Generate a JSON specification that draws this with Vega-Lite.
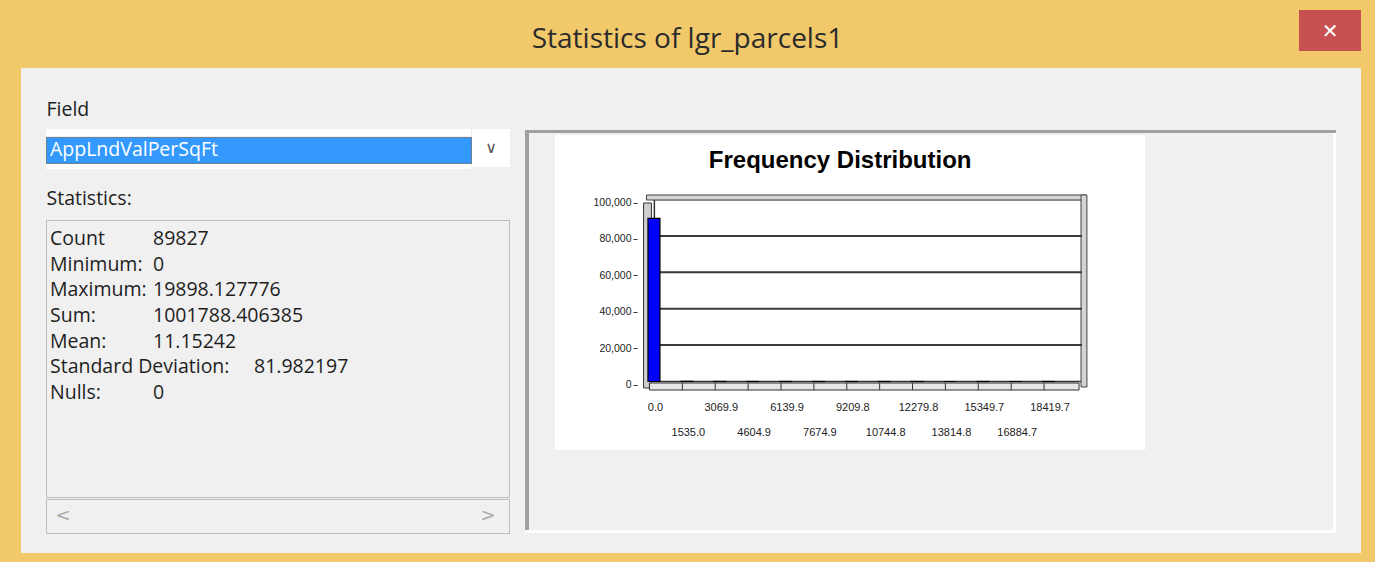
{
  "$schema": "https://vega.github.io/schema/vega-lite/v6.json",
  "padding": 0,
  "background": "#F0F0F0",
  "spacing": 0,
  "config": {"view": {"stroke": null}, "concat": {"spacing": 0}, "text": {"font": "Open Sans"}},
  "vconcat": [
    {"spacing": 0, "hconcat": [
      {"width": 1299, "height": 68, "view": {"fill": "#F1C96B", "stroke": null},
       "data": {"values": [{"t": "Statistics of lgr_parcels1"}]},
       "mark": {"type": "text", "font": "Open Sans", "fontSize": 28, "color": "#2B2B2B", "dx": 38, "dy": 6, "baseline": "middle"},
       "encoding": {"text": {"field": "t"}}},
      {"spacing": 0, "vconcat": [
        {"width": 62, "height": 10, "view": {"fill": "#F1C96B", "stroke": null}, "data": {"values": []}, "mark": "point"},
        {"width": 62, "height": 41, "view": {"fill": "#C75050", "stroke": null},
         "data": {"values": [{"t": "✕"}]},
         "mark": {"type": "text", "font": "DejaVu Sans", "fontSize": 20, "color": "white", "baseline": "middle", "dy": 1},
         "encoding": {"text": {"field": "t"}}},
        {"width": 62, "height": 17, "view": {"fill": "#F1C96B", "stroke": null}, "data": {"values": []}, "mark": "point"}
      ]},
      {"width": 14, "height": 68, "view": {"fill": "#F1C96B", "stroke": null}, "data": {"values": []}, "mark": "point"}
    ]},
    {"spacing": 0, "hconcat": [
      {"width": 21, "height": 485, "view": {"fill": "#F1C96B", "stroke": null}, "data": {"values": []}, "mark": "point"},
      {"spacing": 0, "hconcat": [
        {"width": 24, "height": 485, "data": {"values": []}, "mark": "point"},
        {"spacing": 0, "vconcat": [
          {"width": 463, "height": 30, "data": {"values": []}, "mark": "point"},
          {"width": 1, "height": 24, "data": {"values": [{"t": "Field"}]},
           "mark": {"type": "text", "align": "left", "baseline": "middle", "fontSize": 19.5, "color": "#1E1E1E"},
           "encoding": {"text": {"field": "t"}}},
          {"width": 463, "height": 7, "data": {"values": []}, "mark": "point"},
          {"spacing": 0, "hconcat": [
            {"spacing": 0, "vconcat": [
              {"width": 425, "height": 7, "view": {"fill": "white", "stroke": null}, "data": {"values": []}, "mark": "point"},
              {"width": 425, "height": 26, "view": {"fill": "#3399FF", "stroke": "#4A3B2A", "strokeDash": [1, 1]},
               "data": {"values": [{"name": "AppLndValPerSqFt"}]},
               "mark": {"type": "text", "align": "left", "baseline": "middle", "fontSize": 19.5, "color": "white"},
               "encoding": {
                 "text": {"field": "name"},
                 "x": {"field": "name", "type": "nominal", "scale": {"type": "point", "range": [4, 4], "padding": 0}, "axis": null}
               }},
              {"width": 425, "height": 5, "view": {"fill": "white", "stroke": null}, "data": {"values": []}, "mark": "point"}
            ]},
            {"width": 38, "height": 38, "view": {"fill": "white", "stroke": null},
             "data": {"values": [{"c": "∨"}]},
             "mark": {"type": "text", "font": "DejaVu Sans", "fontSize": 16, "color": "#555555", "baseline": "middle"},
             "encoding": {"text": {"field": "c"}}}
          ]},
          {"width": 463, "height": 18, "data": {"values": []}, "mark": "point"},
          {"width": 1, "height": 24, "data": {"values": [{"t": "Statistics:"}]},
           "mark": {"type": "text", "align": "left", "baseline": "middle", "fontSize": 19.5, "color": "#1E1E1E"},
           "encoding": {"text": {"field": "t"}}},
          {"width": 463, "height": 8, "data": {"values": []}, "mark": "point"},
          {"width": 463, "height": 277, "view": {"stroke": "#BDBDBD"},
           "data": {"values": [
             {"stat": "Count", "value": "89827"},
             {"stat": "Minimum:", "value": "0"},
             {"stat": "Maximum:", "value": "19898.127776"},
             {"stat": "Sum:", "value": "1001788.406385"},
             {"stat": "Mean:", "value": "11.15242"},
             {"stat": "Standard Deviation:", "value": "81.982197"},
             {"stat": "Nulls:", "value": "0"}
           ]},
           "layer": [
             {"mark": {"type": "text", "align": "left", "baseline": "middle", "fontSize": 19.5, "color": "#1E1E1E"},
              "encoding": {
                "y": {"field": "stat", "type": "nominal", "scale": {"type": "point", "domain": ["Count", "Minimum:", "Maximum:", "Sum:", "Mean:", "Standard Deviation:", "Nulls:"], "range": [19, 173], "padding": 0}, "axis": null},
                "x": {"datum": "stat", "type": "nominal", "scale": {"type": "point", "domain": ["stat", "value"], "range": [4, 107], "padding": 0}, "axis": null},
                "text": {"field": "stat"}
              }},
             {"transform": [{"filter": "datum.stat != 'Standard Deviation:'"}],
              "mark": {"type": "text", "align": "left", "baseline": "middle", "fontSize": 19.5, "color": "#1E1E1E"},
              "encoding": {
                "y": {"field": "stat", "type": "nominal", "scale": {"type": "point", "domain": ["Count", "Minimum:", "Maximum:", "Sum:", "Mean:", "Standard Deviation:", "Nulls:"], "range": [19, 173], "padding": 0}, "axis": null},
                "x": {"datum": "value", "type": "nominal", "scale": {"type": "point", "domain": ["stat", "value"], "range": [4, 107], "padding": 0}, "axis": null},
                "text": {"field": "value"}
              }},
             {"transform": [{"filter": "datum.stat == 'Standard Deviation:'"}],
              "mark": {"type": "text", "align": "left", "baseline": "middle", "fontSize": 19.5, "color": "#1E1E1E", "dx": 101},
              "encoding": {
                "y": {"field": "stat", "type": "nominal", "scale": {"type": "point", "domain": ["Count", "Minimum:", "Maximum:", "Sum:", "Mean:", "Standard Deviation:", "Nulls:"], "range": [19, 173], "padding": 0}, "axis": null},
                "x": {"datum": "value", "type": "nominal", "scale": {"type": "point", "domain": ["stat", "value"], "range": [4, 107], "padding": 0}, "axis": null},
                "text": {"field": "value"}
              }}
           ]},
          {"width": 463, "height": 34, "view": {"stroke": "#BDBDBD"},
           "data": {"values": [{"a": "<"}, {"a": ">"}]},
           "mark": {"type": "text", "font": "DejaVu Sans", "fontSize": 18, "color": "#A8A8A8", "baseline": "middle"},
           "encoding": {
             "x": {"field": "a", "type": "nominal", "scale": {"type": "point", "domain": ["<", ">"], "range": [17, 442], "padding": 0}, "axis": null},
             "text": {"field": "a"}
           }},
          {"width": 463, "height": 13, "data": {"values": []}, "mark": "point"}
        ]},
        {"width": 15, "height": 480, "data": {"values": []}, "mark": "point"}
      ]},
      {"spacing": 0, "hconcat": [
        {"spacing": 0, "vconcat": [
          {"width": 811, "height": 62, "data": {"values": []}, "mark": "point"},
          {"width": 811, "height": 3, "view": {"fill": "#A0A0A0", "stroke": null}, "data": {"values": []}, "mark": "point"},
          {"spacing": 0, "hconcat": [
            {"width": 4, "height": 397, "view": {"fill": "#A0A0A0", "stroke": null}, "data": {"values": []}, "mark": "point"},
            {"width": 26, "height": 397, "data": {"values": []}, "mark": "point"},
            {"spacing": 0, "vconcat": [
              {"width": 590, "height": 2, "data": {"values": []}, "mark": "point"},
              {"width": 590, "height": 315, "view": {"fill": "white", "stroke": null},
               "data": {"values": [
                 {"bin": 0, "start": 0.0, "count": 89650},
                 {"bin": 1, "start": 1535.0, "count": 120},
                 {"bin": 2, "start": 3069.9, "count": 30},
                 {"bin": 3, "start": 4604.9, "count": 12},
                 {"bin": 4, "start": 6139.9, "count": 6},
                 {"bin": 5, "start": 7674.9, "count": 3},
                 {"bin": 6, "start": 9209.8, "count": 2},
                 {"bin": 7, "start": 10744.8, "count": 1},
                 {"bin": 8, "start": 12279.8, "count": 1},
                 {"bin": 9, "start": 13814.8, "count": 0},
                 {"bin": 10, "start": 15349.7, "count": 1},
                 {"bin": 11, "start": 16884.7, "count": 0},
                 {"bin": 12, "start": 18419.7, "count": 1}
               ]},
               "layer": [
                 {"data": {"values": [{}]},
                  "mark": {"type": "rect", "fill": "#CFCFCF", "stroke": "#333333", "strokeWidth": 1},
                  "encoding": {
                    "x": {"datum": -275, "type": "quantitative", "scale": {"domain": [-4176, 22898], "nice": false, "zero": false}, "axis": null},
                    "x2": {"datum": 92},
                    "y": {"datum": 98077, "type": "quantitative", "scale": {"domain": [-37637, 135440], "nice": false, "zero": false},
                          "axis": {"orient": "left", "offset": -82, "values": [0, 20000, 40000, 60000, 80000, 100000], "format": ",.0f", "domain": false, "grid": false, "ticks": true, "tickSize": 4, "tickColor": "#333333", "tickOffset": 3, "labelFont": "Liberation Sans", "labelFontSize": 10.5, "labelColor": "#222222", "labelPadding": 2, "title": null}},
                    "y2": {"datum": -3571}
                  }},
                 {"data": {"values": [{}]},
                  "mark": {"type": "rect", "fill": "white", "stroke": "#333333", "strokeWidth": 1.5},
                  "encoding": {
                    "x": {"datum": 229, "type": "quantitative", "scale": {"domain": [-4176, 22898], "nice": false, "zero": false}, "axis": null},
                    "x2": {"datum": 20191},
                    "y": {"datum": 0, "type": "quantitative", "scale": {"domain": [-37637, 135440], "nice": false, "zero": false},
                          "axis": {"orient": "left", "offset": -82, "values": [0, 20000, 40000, 60000, 80000, 100000], "format": ",.0f", "domain": false, "grid": false, "ticks": true, "tickSize": 4, "tickColor": "#333333", "tickOffset": 3, "labelFont": "Liberation Sans", "labelFontSize": 10.5, "labelColor": "#222222", "labelPadding": 2, "title": null}},
                    "y2": {"datum": 100000}
                  }},
                 {"data": {"values": [{}]},
                  "mark": {"type": "rect", "fill": "#D4D4D4", "stroke": "#444444", "strokeWidth": 1},
                  "encoding": {
                    "x": {"datum": -138, "type": "quantitative", "scale": {"domain": [-4176, 22898], "nice": false, "zero": false}, "axis": null},
                    "x2": {"datum": 20374},
                    "y": {"datum": 99725, "type": "quantitative", "scale": {"domain": [-37637, 135440], "nice": false, "zero": false},
                          "axis": {"orient": "left", "offset": -82, "values": [0, 20000, 40000, 60000, 80000, 100000], "format": ",.0f", "domain": false, "grid": false, "ticks": true, "tickSize": 4, "tickColor": "#333333", "tickOffset": 3, "labelFont": "Liberation Sans", "labelFontSize": 10.5, "labelColor": "#222222", "labelPadding": 2, "title": null}},
                    "y2": {"datum": 102473}
                  }},
                 {"data": {"values": [{}]},
                  "mark": {"type": "rect", "fill": "#D4D4D4", "stroke": "#444444", "strokeWidth": 1},
                  "encoding": {
                    "x": {"datum": 20145, "type": "quantitative", "scale": {"domain": [-4176, 22898], "nice": false, "zero": false}, "axis": null},
                    "x2": {"datum": 20420},
                    "y": {"datum": -3022, "type": "quantitative", "scale": {"domain": [-37637, 135440], "nice": false, "zero": false},
                          "axis": {"orient": "left", "offset": -82, "values": [0, 20000, 40000, 60000, 80000, 100000], "format": ",.0f", "domain": false, "grid": false, "ticks": true, "tickSize": 4, "tickColor": "#333333", "tickOffset": 3, "labelFont": "Liberation Sans", "labelFontSize": 10.5, "labelColor": "#222222", "labelPadding": 2, "title": null}},
                    "y2": {"datum": 102473}
                  }},
                 {"data": {"values": [{}]},
                  "mark": {"type": "rect", "fill": "#E6E6E6", "stroke": "#333333", "strokeWidth": 1},
                  "encoding": {
                    "x": {"datum": 0, "type": "quantitative", "scale": {"domain": [-4176, 22898], "nice": false, "zero": false}, "axis": null},
                    "x2": {"datum": 20053},
                    "y": {"datum": -824, "type": "quantitative", "scale": {"domain": [-37637, 135440], "nice": false, "zero": false},
                          "axis": {"orient": "left", "offset": -82, "values": [0, 20000, 40000, 60000, 80000, 100000], "format": ",.0f", "domain": false, "grid": false, "ticks": true, "tickSize": 4, "tickColor": "#333333", "tickOffset": 3, "labelFont": "Liberation Sans", "labelFontSize": 10.5, "labelColor": "#222222", "labelPadding": 2, "title": null}},
                    "y2": {"datum": -4670}
                  }},
                 {"mark": {"type": "rule", "stroke": "#333333", "strokeWidth": 1},
                  "encoding": {
                    "x": {"field": "start", "type": "quantitative", "scale": {"domain": [-4176, 22898], "nice": false, "zero": false}, "axis": null},
                    "y": {"datum": -824, "type": "quantitative", "scale": {"domain": [-37637, 135440], "nice": false, "zero": false},
                          "axis": {"orient": "left", "offset": -82, "values": [0, 20000, 40000, 60000, 80000, 100000], "format": ",.0f", "domain": false, "grid": false, "ticks": true, "tickSize": 4, "tickColor": "#333333", "tickOffset": 3, "labelFont": "Liberation Sans", "labelFontSize": 10.5, "labelColor": "#222222", "labelPadding": 2, "title": null}},
                    "y2": {"datum": -4670}
                  }},
                 {"data": {"values": [{"g": 20000}, {"g": 40000}, {"g": 60000}, {"g": 80000}]},
                  "mark": {"type": "rule", "stroke": "#3A3A3A", "strokeWidth": 2},
                  "encoding": {
                    "x": {"datum": 229, "type": "quantitative", "scale": {"domain": [-4176, 22898], "nice": false, "zero": false}, "axis": null},
                    "x2": {"datum": 20191},
                    "y": {"field": "g", "type": "quantitative", "scale": {"domain": [-37637, 135440], "nice": false, "zero": false},
                          "axis": {"orient": "left", "offset": -82, "values": [0, 20000, 40000, 60000, 80000, 100000], "format": ",.0f", "domain": false, "grid": false, "ticks": true, "tickSize": 4, "tickColor": "#333333", "tickOffset": 3, "labelFont": "Liberation Sans", "labelFontSize": 10.5, "labelColor": "#222222", "labelPadding": 2, "title": null}}
                  }},
                 {"mark": {"type": "bar", "width": 12, "xOffset": 4.5, "fill": "#0000FF", "stroke": "#000000", "strokeWidth": 1.2},
                  "encoding": {
                    "x": {"field": "start", "type": "quantitative", "scale": {"domain": [-4176, 22898], "nice": false, "zero": false}, "axis": null},
                    "y": {"field": "count", "type": "quantitative", "stack": null, "scale": {"domain": [-37637, 135440], "nice": false, "zero": false},
                          "axis": {"orient": "left", "offset": -82, "values": [0, 20000, 40000, 60000, 80000, 100000], "format": ",.0f", "domain": false, "grid": false, "ticks": true, "tickSize": 4, "tickColor": "#333333", "tickOffset": 3, "labelFont": "Liberation Sans", "labelFontSize": 10.5, "labelColor": "#222222", "labelPadding": 2, "title": null}},
                    "y2": {"datum": 0}
                  }},
                 {"transform": [{"filter": "datum.bin % 2 == 0"}],
                  "mark": {"type": "text", "font": "Liberation Sans", "fontSize": 11, "color": "#222222", "dx": 6, "baseline": "middle"},
                  "encoding": {
                    "x": {"field": "start", "type": "quantitative", "scale": {"domain": [-4176, 22898], "nice": false, "zero": false}, "axis": null},
                    "y": {"datum": -14560, "type": "quantitative", "scale": {"domain": [-37637, 135440], "nice": false, "zero": false},
                          "axis": {"orient": "left", "offset": -82, "values": [0, 20000, 40000, 60000, 80000, 100000], "format": ",.0f", "domain": false, "grid": false, "ticks": true, "tickSize": 4, "tickColor": "#333333", "tickOffset": 3, "labelFont": "Liberation Sans", "labelFontSize": 10.5, "labelColor": "#222222", "labelPadding": 2, "title": null}},
                    "text": {"field": "start", "type": "quantitative", "format": ".1f"}
                  }},
                 {"transform": [{"filter": "datum.bin % 2 == 1"}],
                  "mark": {"type": "text", "font": "Liberation Sans", "fontSize": 11, "color": "#222222", "dx": 6, "baseline": "middle"},
                  "encoding": {
                    "x": {"field": "start", "type": "quantitative", "scale": {"domain": [-4176, 22898], "nice": false, "zero": false}, "axis": null},
                    "y": {"datum": -28297, "type": "quantitative", "scale": {"domain": [-37637, 135440], "nice": false, "zero": false},
                          "axis": {"orient": "left", "offset": -82, "values": [0, 20000, 40000, 60000, 80000, 100000], "format": ",.0f", "domain": false, "grid": false, "ticks": true, "tickSize": 4, "tickColor": "#333333", "tickOffset": 3, "labelFont": "Liberation Sans", "labelFontSize": 10.5, "labelColor": "#222222", "labelPadding": 2, "title": null}},
                    "text": {"field": "start", "type": "quantitative", "format": ".1f"}
                  }},
                 {"data": {"values": [{"title": "Frequency Distribution"}]},
                  "mark": {"type": "text", "font": "Liberation Sans", "fontSize": 24, "fontWeight": "bold", "color": "#000000", "baseline": "middle"},
                  "encoding": {
                    "x": {"datum": 8902, "type": "quantitative", "scale": {"domain": [-4176, 22898], "nice": false, "zero": false}, "axis": null},
                    "y": {"datum": 121154, "type": "quantitative", "scale": {"domain": [-37637, 135440], "nice": false, "zero": false},
                          "axis": {"orient": "left", "offset": -82, "values": [0, 20000, 40000, 60000, 80000, 100000], "format": ",.0f", "domain": false, "grid": false, "ticks": true, "tickSize": 4, "tickColor": "#333333", "tickOffset": 3, "labelFont": "Liberation Sans", "labelFontSize": 10.5, "labelColor": "#222222", "labelPadding": 2, "title": null}},
                    "text": {"field": "title"}
                  }}
               ]},
              {"width": 590, "height": 80, "data": {"values": []}, "mark": "point"}
            ]},
            {"width": 188, "height": 397, "data": {"values": []}, "mark": "point"},
            {"width": 3, "height": 397, "view": {"fill": "#FFFFFF", "stroke": null}, "data": {"values": []}, "mark": "point"}
          ]},
          {"width": 811, "height": 3, "view": {"fill": "#FFFFFF", "stroke": null}, "data": {"values": []}, "mark": "point"},
          {"width": 811, "height": 20, "data": {"values": []}, "mark": "point"}
        ]},
        {"width": 25, "height": 485, "data": {"values": []}, "mark": "point"}
      ]},
      {"width": 14, "height": 485, "view": {"fill": "#F1C96B", "stroke": null}, "data": {"values": []}, "mark": "point"}
    ]},
    {"width": 1375, "height": 9, "view": {"fill": "#F1C96B", "stroke": null}, "data": {"values": []}, "mark": "point"}
  ]
}
